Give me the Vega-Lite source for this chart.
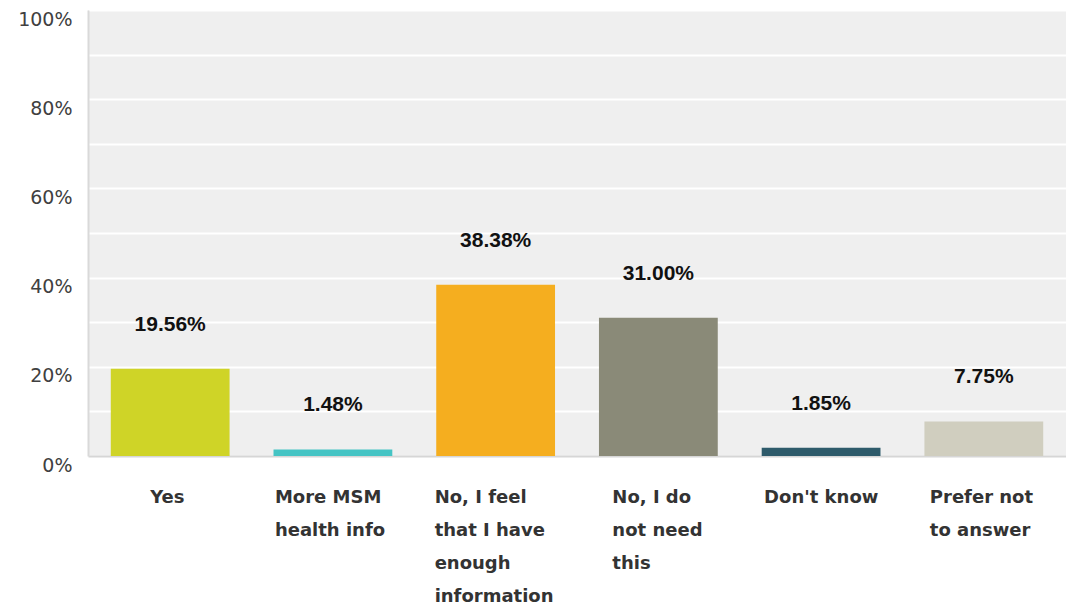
{
  "$schema": "https://vega.github.io/schema/vega-lite/v6.json",
  "autosize": "none",
  "padding": {"left": 88, "top": 10, "right": 0, "bottom": 151},
  "width": 978,
  "height": 446,
  "background": "white",
  "config": {
    "view": {"fill": "#efefef", "stroke": null}
  },
  "data": {
    "values": [
      {"answer": "Yes", "pct": 0.1956},
      {"answer": "More MSM health info", "pct": 0.0148},
      {"answer": "No, I feel that I have enough information", "pct": 0.3838},
      {"answer": "No, I do not need this", "pct": 0.31},
      {"answer": "Don't know", "pct": 0.0185},
      {"answer": "Prefer not to answer", "pct": 0.0775}
    ]
  },
  "encoding": {
    "x": {
      "field": "answer",
      "type": "nominal",
      "sort": null,
      "title": null,
      "scale": {"paddingInner": 0.27, "paddingOuter": 0.14},
      "axis": {
        "domainColor": "#d6d6d6",
        "domainWidth": 2,
        "ticks": false,
        "labelAngle": 0,
        "labelFont": "DejaVu Sans",
        "labelFontWeight": "bold",
        "labelFontSize": 18,
        "labelColor": "#333333",
        "labelBaseline": "top",
        "labelPadding": 32,
        "labelLineHeight": 33,
        "labelAlign": "left",
        "labelOffset": {
          "condition": [
            {"test": "datum.value === 'Yes'", "value": -20},
            {"test": "datum.value === 'More MSM health info'", "value": -58},
            {"test": "datum.value === 'No, I feel that I have enough information'", "value": -61},
            {"test": "datum.value === 'No, I do not need this'", "value": -46},
            {"test": "datum.value === \"Don't know\"", "value": -57}
          ],
          "value": -54
        },
        "labelExpr": "datum.value === 'More MSM health info' ? ['More MSM', 'health info'] : datum.value === 'No, I feel that I have enough information' ? ['No, I feel', 'that I have', 'enough', 'information'] : datum.value === 'No, I do not need this' ? ['No, I do', 'not need', 'this'] : datum.value === 'Prefer not to answer' ? ['Prefer not', 'to answer'] : datum.value"
      }
    },
    "y": {
      "field": "pct",
      "type": "quantitative",
      "title": null,
      "scale": {"domain": [0, 1], "nice": false},
      "axis": {
        "values": [0, 0.1, 0.2, 0.3, 0.4, 0.5, 0.6, 0.7, 0.8, 0.9, 1],
        "labelExpr": "round(datum.value * 10) % 2 == 0 ? format(datum.value, '.0%') : ''",
        "grid": true,
        "gridColor": "#ffffff",
        "gridWidth": 2,
        "domainColor": "#d9d9d9",
        "domainWidth": 2,
        "ticks": false,
        "labelFont": "DejaVu Sans",
        "labelFontSize": 19,
        "labelColor": "#404040",
        "labelPadding": 16,
        "labelOffset": 9,
        "labelBaseline": "middle"
      }
    }
  },
  "layer": [
    {
      "mark": {"type": "bar"},
      "encoding": {
        "color": {
          "field": "answer",
          "type": "nominal",
          "legend": null,
          "scale": {
            "domain": ["Yes", "More MSM health info", "No, I feel that I have enough information", "No, I do not need this", "Don't know", "Prefer not to answer"],
            "range": ["#cfd427", "#45c4c4", "#f5ae1f", "#8a8a78", "#2e5b6b", "#d0cebf"]
          }
        }
      }
    },
    {
      "mark": {"type": "text", "dy": -44, "baseline": "middle", "align": "center", "font": "Liberation Sans", "fontWeight": "bold", "fontSize": 21, "color": "#111111"},
      "encoding": {
        "text": {"field": "pct", "type": "quantitative", "format": ".2%"}
      }
    }
  ]
}
